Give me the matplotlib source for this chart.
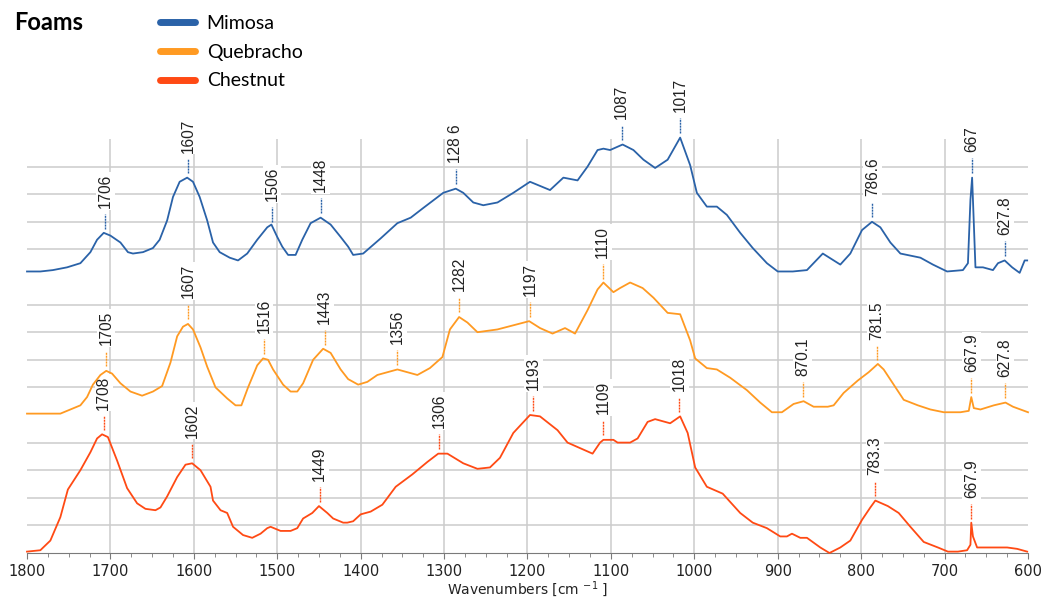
import numpy as np
import matplotlib
matplotlib.use("Agg")
import matplotlib.pyplot as plt
from matplotlib.lines import Line2D

# spectra: wavenumber [cm-1] and normalised absorbance (band height = 1)
mimosa_wn = [1800, 1784, 1769, 1752, 1736, 1724, 1716, 1708, 1700, 1688, 1679, 1673, 1661, 1649, 1641,
             1632, 1625, 1617, 1608, 1601, 1593, 1584, 1577, 1569, 1557, 1547, 1536, 1524, 1512, 1507,
             1500, 1494, 1487, 1478, 1470, 1460, 1448, 1436, 1424, 1415, 1409, 1397, 1376, 1356, 1340,
             1325, 1301, 1286, 1277, 1265, 1253, 1236, 1217, 1197, 1185, 1173, 1157, 1140, 1128, 1116,
             1109, 1101, 1086, 1073, 1061, 1047, 1032, 1017, 1005, 997, 985, 973, 961, 945, 930, 913,
             900, 882, 865, 846, 825, 813, 799, 787, 777, 765, 753, 729, 714, 697, 678, 672, 669, 667,
             666, 663, 654, 642, 636, 628, 619, 610, 604, 601]
mimosa_ab = [0.04, 0.04, 0.05, 0.07, 0.10, 0.18, 0.27, 0.32, 0.30, 0.25, 0.18, 0.17, 0.18, 0.21, 0.27,
             0.41, 0.58, 0.69, 0.72, 0.69, 0.58, 0.41, 0.25, 0.18, 0.14, 0.12, 0.17, 0.27, 0.36, 0.38,
             0.29, 0.22, 0.16, 0.16, 0.27, 0.39, 0.43, 0.38, 0.29, 0.22, 0.16, 0.17, 0.28, 0.39, 0.43,
             0.50, 0.61, 0.64, 0.61, 0.54, 0.52, 0.54, 0.61, 0.69, 0.66, 0.63, 0.72, 0.70, 0.80, 0.92,
             0.93, 0.92, 0.96, 0.92, 0.85, 0.79, 0.85, 1.01, 0.81, 0.61, 0.51, 0.51, 0.45, 0.32, 0.21, 0.10,
             0.04, 0.04, 0.05, 0.17, 0.09, 0.17, 0.34, 0.40, 0.36, 0.25, 0.17, 0.14, 0.09, 0.04, 0.05, 0.10,
             0.56, 0.72, 0.56, 0.07, 0.07, 0.05, 0.10, 0.12, 0.07, 0.03, 0.12, 0.12]

quebracho_wn = [1800, 1760, 1748, 1736, 1728, 1721, 1712, 1705, 1698, 1688, 1676, 1662, 1649, 1638, 1628,
                1620, 1613, 1607, 1601, 1592, 1584, 1574, 1560, 1550, 1543, 1535, 1524, 1517, 1511, 1505,
                1493, 1484, 1476, 1469, 1457, 1445, 1436, 1424, 1415, 1403, 1392, 1380, 1356, 1332, 1317,
                1302, 1293, 1282, 1272, 1260, 1236, 1217, 1198, 1185, 1170, 1155, 1143, 1128, 1116, 1109,
                1097, 1089, 1077, 1062, 1049, 1032, 1017, 1005, 999, 985, 973, 957, 937, 921, 907, 895,
                881, 869, 857, 840, 833, 821, 804, 791, 780, 773, 761, 749, 732, 717, 701, 681, 671, 668,
                665, 657, 641, 627, 618, 609, 600]
quebracho_ab = [0.01, 0.01, 0.04, 0.07, 0.13, 0.22, 0.29, 0.32, 0.30, 0.23, 0.17, 0.14, 0.17, 0.21, 0.38,
                0.57, 0.64, 0.66, 0.62, 0.49, 0.35, 0.20, 0.12, 0.07, 0.07, 0.20, 0.36, 0.41, 0.40, 0.33,
                0.22, 0.17, 0.17, 0.23, 0.40, 0.48, 0.45, 0.33, 0.26, 0.22, 0.24, 0.29, 0.33, 0.29, 0.34,
                0.42, 0.62, 0.71, 0.67, 0.60, 0.62, 0.65, 0.68, 0.63, 0.59, 0.63, 0.59, 0.76, 0.91, 0.96,
                0.89, 0.92, 0.96, 0.92, 0.85, 0.74, 0.73, 0.54, 0.41, 0.34, 0.33, 0.27, 0.18, 0.09, 0.02, 0.02,
                0.08, 0.10, 0.06, 0.06, 0.07, 0.16, 0.25, 0.31, 0.37, 0.33, 0.22, 0.11, 0.07, 0.04, 0.02, 0.02,
                0.03, 0.13, 0.05, 0.04, 0.07, 0.09, 0.06, 0.04, 0.02]

chestnut_wn = [1800, 1784, 1772, 1760, 1751, 1736, 1724, 1716, 1710, 1703, 1692, 1680, 1668, 1658, 1646,
               1640, 1632, 1620, 1610, 1602, 1592, 1580, 1577, 1568, 1560, 1553, 1541, 1530, 1520, 1512,
               1508, 1496, 1484, 1476, 1469, 1458, 1450, 1440, 1433, 1421, 1416, 1409, 1400, 1388, 1374,
               1358, 1338, 1320, 1307, 1296, 1277, 1260, 1245, 1233, 1217, 1197, 1185, 1164, 1152, 1137,
               1122, 1113, 1109, 1097, 1092, 1077, 1068, 1056, 1047, 1029, 1017, 1008, 999, 985, 966, 945,
               930, 913, 897, 889, 883, 873, 865, 849, 838, 825, 813, 799, 789, 783, 768, 755, 741, 725,
               708, 696, 684, 673, 669, 668, 666, 661, 646, 625, 613, 601]
chestnut_ab = [0.01, 0.02, 0.09, 0.26, 0.46, 0.60, 0.73, 0.83, 0.86, 0.84, 0.67, 0.47, 0.36, 0.32, 0.31,
               0.33, 0.41, 0.55, 0.64, 0.65, 0.60, 0.48, 0.38, 0.31, 0.29, 0.19, 0.13, 0.11, 0.14, 0.18,
               0.19, 0.16, 0.16, 0.18, 0.25, 0.29, 0.34, 0.29, 0.25, 0.22, 0.22, 0.23, 0.28, 0.30, 0.35,
               0.48, 0.57, 0.66, 0.72, 0.72, 0.65, 0.61, 0.62, 0.69, 0.87, 1.00, 0.99, 0.89, 0.80, 0.76,
               0.72, 0.80, 0.82, 0.82, 0.80, 0.80, 0.83, 0.95, 0.97, 0.94, 0.99, 0.87, 0.62, 0.48, 0.43, 0.29,
               0.22, 0.18, 0.12, 0.12, 0.14, 0.11, 0.11, 0.04, 0.00, 0.04, 0.09, 0.24, 0.33, 0.38, 0.34, 0.29,
               0.19, 0.08, 0.04, 0.01, 0.01, 0.02, 0.06, 0.22, 0.12, 0.04, 0.04, 0.04, 0.03, 0.01]

# peak annotations
mimosa_peaks = [1706, 1607, 1506, 1448, 1286, 1087, 1017, 786.6, 667, 627.8]
mimosa_labels = ["1706", "1607", "1506", "1448", "128 6", "1087", "1017", "786.6", "667", "627.8"]
quebracho_peaks = [1705, 1607, 1516, 1443, 1356, 1282, 1197, 1110, 870.1, 781.5, 667.9, 627.8]
quebracho_labels = ["1705", "1607", "1516", "1443", "1356", "1282", "1197", "1110", "870.1", "781.5",
                    "667.9", "627.8"]
chestnut_peaks = [1708, 1602, 1449, 1306, 1193, 1109, 1018, 783.3, 667.9]
chestnut_labels = ["1708", "1602", "1449", "1306", "1193", "1109", "1018", "783.3", "667.9"]

names = ["Mimosa", "Quebracho", "Chestnut"]
colors = ["#2a62a8", "#ff9a22", "#ff4a14"]
offsets = [2, 1, 0]

fig = plt.figure(figsize=(10.45, 6), dpi=100)
ax = fig.add_axes([27 / 1045, 47 / 600, 1001 / 1045, 473 / 600])
ax.set_xlim(1800, 600)
ax.set_ylim(0, 473 / 138)

gridc = "#cccccc"
for off in offsets:
    for k in range(1, 5):
        ax.hlines(off + 0.2 * k, 1800, 600, color=gridc, lw=1.1, zorder=1)
ax.vlines(np.arange(700, 1800, 100), 0, 3, color=gridc, lw=1.1, zorder=1)

series = [(mimosa_wn, mimosa_ab, mimosa_peaks, mimosa_labels),
          (quebracho_wn, quebracho_ab, quebracho_peaks, quebracho_labels),
          (chestnut_wn, chestnut_ab, chestnut_peaks, chestnut_labels)]

for (wn, ab, pk, lab), c, off in zip(series, colors, offsets):
    wn = np.array(wn, dtype=float)
    ab = np.array(ab) + off
    ax.plot(wn, ab, color=c, lw=1.3, zorder=5, clip_on=False)
    for p, t in zip(pk, lab):
        h = np.interp(p, wn[::-1], ab[::-1])
        ax.plot([p, p], [h + 0.035, h + 0.14], color=c, lw=1.0,
                linestyle=(0, (1.5, 0.6)), zorder=4)
        ax.text(p, h + 0.185, t, rotation=90, ha="center", va="bottom",
                fontsize=11.2, family="Liberation Sans", color="#222222", zorder=3,
                bbox=dict(facecolor="white", edgecolor="none", pad=1.2))

for s in ["left", "right", "top"]:
    ax.spines[s].set_visible(False)
ax.spines["bottom"].set_color("#7a7a7a")
ax.set_yticks([])
ax.set_xticks(np.arange(1800, 599, -100))
ax.set_xticks(np.arange(1800, 599, -25), minor=True)
ax.tick_params(axis="x", which="both", colors="#7a7a7a", labelcolor="#222222",
               labelsize=10.5, direction="out")
ax.tick_params(axis="x", which="major", length=4, pad=4)
ax.tick_params(axis="x", which="minor", length=3)
ax.set_xlabel("Wavenumbers [cm $^{-1}$ ]", fontsize=10, color="#222222", labelpad=0)

fig.text(14 / 1045, 1 - 22 / 600, "Foams", fontsize=17, fontweight="bold",
         family="Lato", va="center", ha="left")

handles = [Line2D([], [], color=c, lw=5, solid_capstyle="round") for c in colors]
fig.legend(handles, names, loc="upper left", bbox_to_anchor=(160 / 1045, 1 - 15 / 600),
           frameon=False, prop={"family": "Lato", "size": 14},
           handlelength=1.8, handletextpad=0.6, labelspacing=0.6,
           borderpad=0, borderaxespad=0)

fig.savefig("out.png", dpi=100)
